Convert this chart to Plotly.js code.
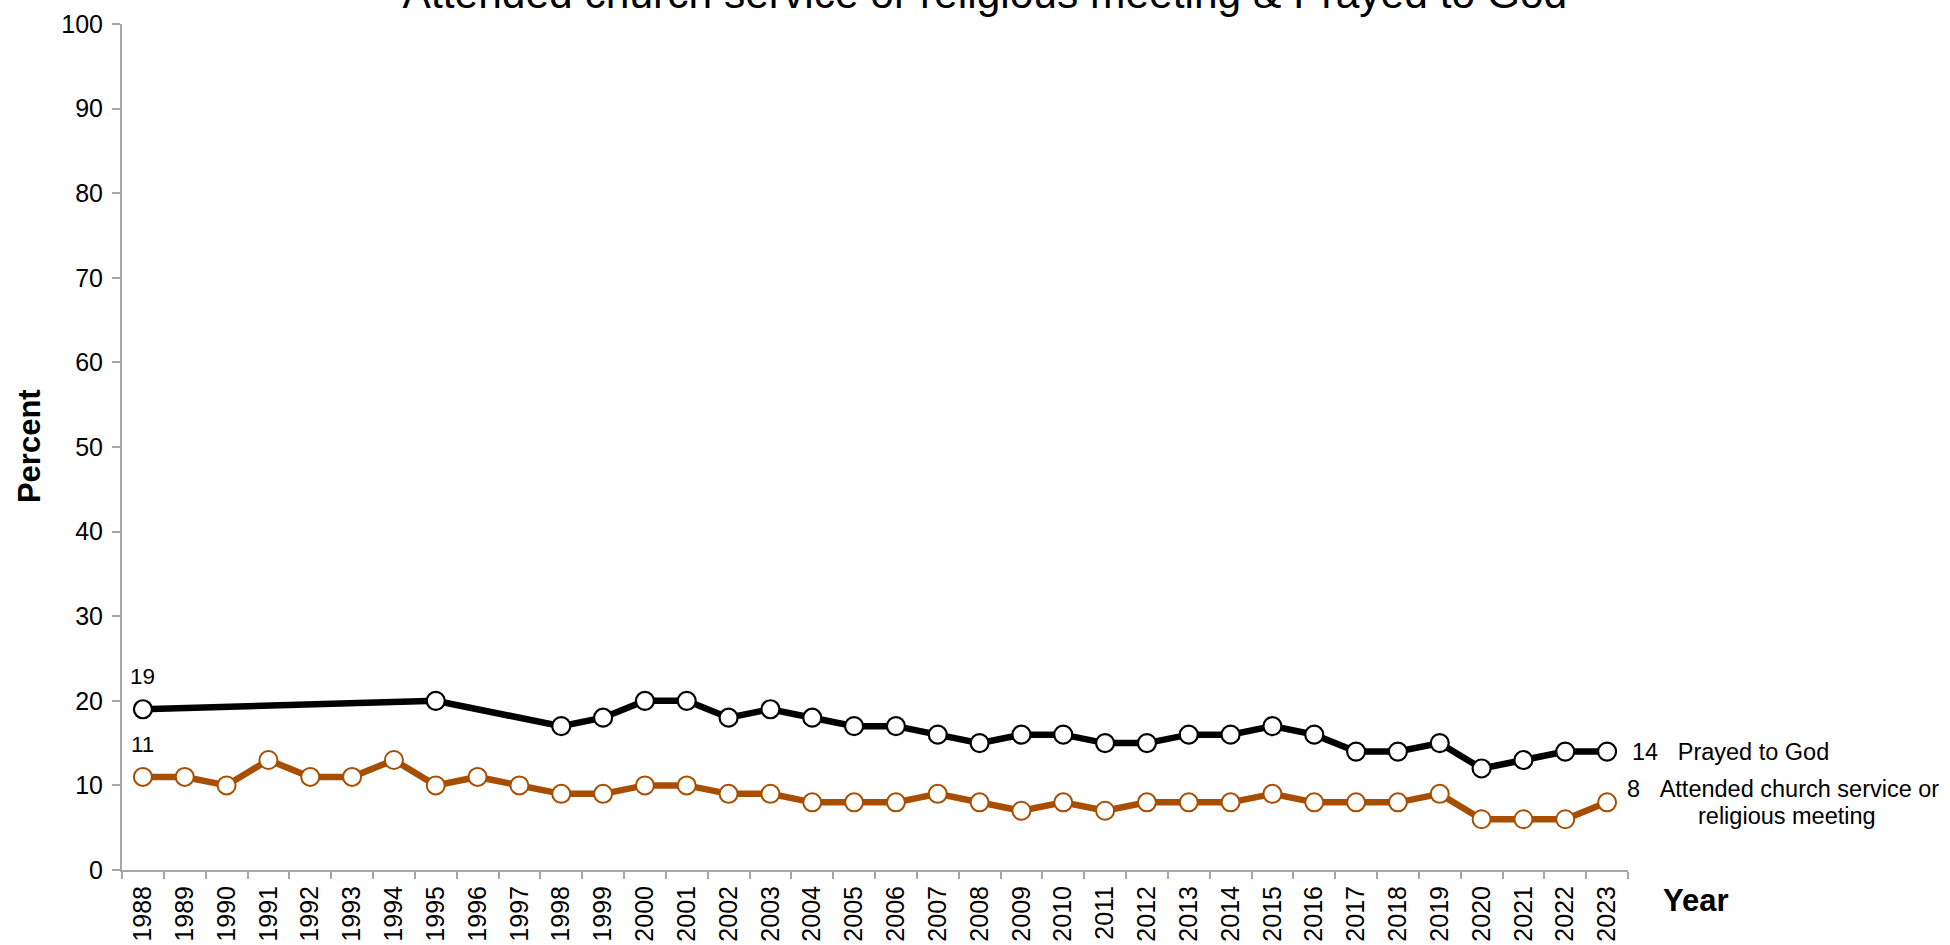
<!DOCTYPE html>
<html>
<head>
<meta charset="utf-8">
<script src="https://cdn.plot.ly/plotly-3.0.1.min.js"></script>
<style>
  html, body { margin: 0; padding: 0; background: #ffffff; }
  #chart { width: 1950px; height: 945px; }
</style>
</head>
<body>
<div id="chart"></div>
<script>
// ---- data ----
const years = ["1988","1989","1990","1991","1992","1993","1994","1995","1996","1997","1998","1999",
               "2000","2001","2002","2003","2004","2005","2006","2007","2008","2009","2010","2011",
               "2012","2013","2014","2015","2016","2017","2018","2019","2020","2021","2022","2023"];
const prayed = [19, null, null, null, null, null, null, 20, null, null, 17, 18,
                20, 20, 18, 19, 18, 17, 17, 16, 15, 16, 16, 15,
                15, 16, 16, 17, 16, 14, 14, 15, 12, 13, 14, 14];
const attended = [11, 11, 10, 13, 11, 11, 13, 10, 11, 10, 9, 9,
                  10, 10, 9, 9, 8, 8, 8, 9, 8, 7, 8, 7,
                  8, 8, 8, 9, 8, 8, 8, 9, 6, 6, 6, 8];
const yTicks = [0, 10, 20, 30, 40, 50, 60, 70, 80, 90, 100];
const titleText = "Attended church service or religious meeting & Prayed to God";
const prayedName = "Prayed to God";
const attendedLine1 = "Attended church service or";
const attendedLine2 = "religious meeting";

// ---- style ----
const FONT = "Arial, 'Liberation Sans', sans-serif";
const BLACK = "#000000";
const ORANGE = "#A84E00";
const AXIS = "#A6A6A6";
const NB = "\u00a0\u00a0\u00a0";

const last = years.length - 1;

const traces = [
  {
    x: years, y: prayed, type: "scatter", mode: "lines+markers", connectgaps: true,
    name: prayedName,
    line: { color: BLACK, width: 6.5 },
    marker: { symbol: "circle", size: 18, color: "#ffffff", line: { color: BLACK, width: 2.2 } },
    hoverinfo: "x+y"
  },
  {
    x: years, y: attended, type: "scatter", mode: "lines+markers", connectgaps: true,
    name: attendedLine1 + " " + attendedLine2,
    line: { color: ORANGE, width: 6.5 },
    marker: { symbol: "circle", size: 18, color: "#ffffff", line: { color: ORANGE, width: 2 } },
    hoverinfo: "x+y"
  }
];

const lab = (size) => ({ family: FONT, size: size, color: "#000000" });

const layout = {
  width: 1950, height: 945,
  paper_bgcolor: "#ffffff", plot_bgcolor: "#ffffff",
  showlegend: false,
  margin: { l: 122, r: 322, t: 24, b: 75, pad: 0 },
  font: { family: FONT, color: "#000000" },
  title: {
    text: titleText,
    font: lab(42.5),
    x: 0.5051, xref: "container", xanchor: "center",
    y: 1, yref: "paper", yanchor: "bottom",
    pad: { b: 16, t: 0, l: 0, r: 0 }
  },
  xaxis: {
    type: "category",
    range: [-0.5, years.length - 0.5],
    showgrid: false, zeroline: false,
    showline: true, linecolor: AXIS, linewidth: 2,
    ticks: "outside", tickson: "boundaries", ticklen: 7, tickwidth: 2, tickcolor: AXIS,
    tickangle: -90,
    tickfont: lab(25),
    ticklabelstandoff: 4
  },
  yaxis: {
    range: [0, 100],
    tickvals: yTicks, ticktext: yTicks.map(String),
    showgrid: false, zeroline: false,
    showline: true, linecolor: AXIS, linewidth: 2,
    ticks: "outside", ticklen: 8, tickwidth: 2, tickcolor: AXIS,
    tickfont: lab(25),
    ticklabelstandoff: 4
  },
  annotations: [
    {
      x: 0, y: prayed[0], xref: "x", yref: "y",
      text: String(prayed[0]), showarrow: false,
      xanchor: "center", yanchor: "middle", yshift: 33,
      font: lab(22.5)
    },
    {
      x: 0, y: attended[0], xref: "x", yref: "y",
      text: String(attended[0]), showarrow: false,
      xanchor: "center", yanchor: "middle", yshift: 32,
      font: lab(22.5)
    },
    {
      x: last, y: prayed[last], xref: "x", yref: "y",
      text: prayed[last] + NB + prayedName, showarrow: false,
      xanchor: "left", yanchor: "middle", xshift: 23, yshift: 0,
      font: lab(23.5)
    },
    {
      x: last, y: attended[last], xref: "x", yref: "y",
      text: attended[last] + NB + attendedLine1, showarrow: false,
      xanchor: "left", yanchor: "middle", xshift: 18, yshift: 13,
      font: lab(23.5)
    },
    {
      x: last, y: attended[last], xref: "x", yref: "y",
      text: attendedLine2, showarrow: false,
      xanchor: "center", yanchor: "middle", xshift: 180, yshift: -14,
      font: lab(23.5)
    },
    {
      x: 1.0452, y: -0.0355, xref: "paper", yref: "paper",
      text: "<b>Year</b>", showarrow: false,
      xanchor: "center", yanchor: "middle",
      font: lab(31)
    },
    {
      x: -0.0618, y: 0.501, xref: "paper", yref: "paper",
      text: "<b>Percent</b>", showarrow: false, textangle: -90,
      xanchor: "center", yanchor: "middle",
      font: lab(31)
    }
  ]
};

Plotly.newPlot("chart", traces, layout, { displayModeBar: false, staticPlot: true });
</script>
</body>
</html>
